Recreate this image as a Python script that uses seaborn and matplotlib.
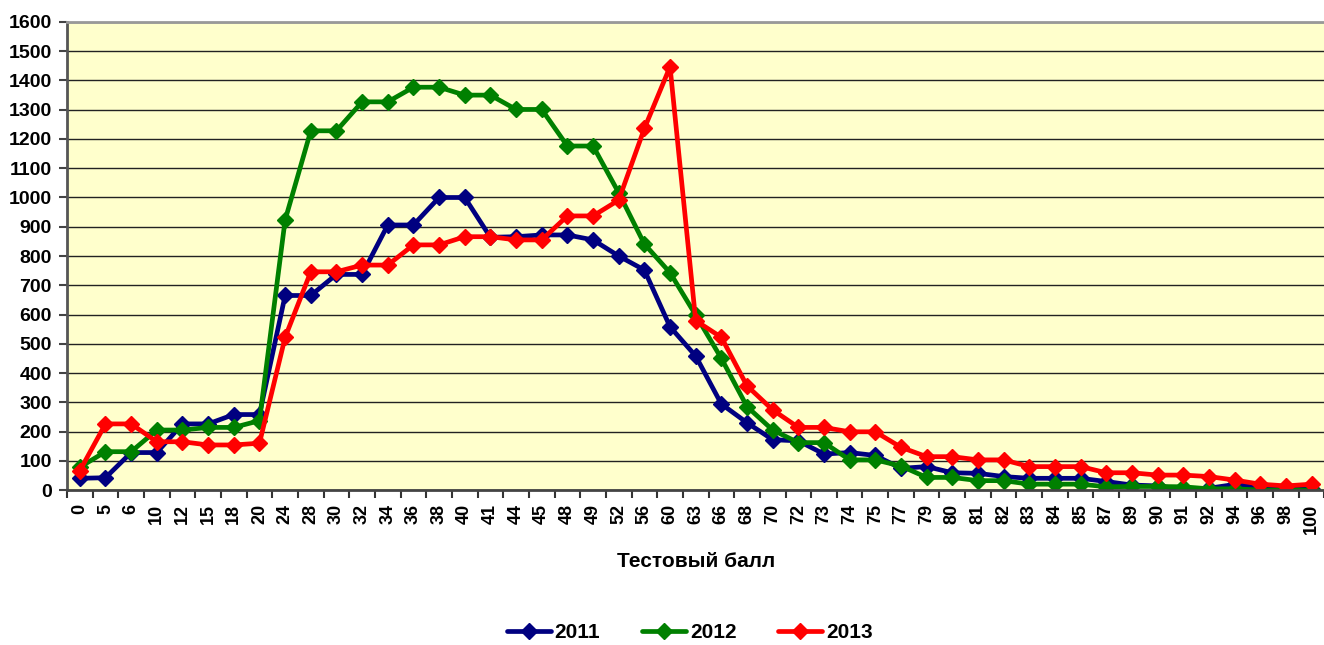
import numpy as np
import pandas as pd
import matplotlib
matplotlib.use('Agg')
import matplotlib.pyplot as plt
import seaborn as sns
from matplotlib.ticker import MultipleLocator

# test scores (x categories) and number of participants per year
scores = [0, 5, 6, 10, 12, 15, 18, 20, 24, 28, 30, 32, 34, 36, 38, 40, 41, 44, 45, 48,
          49, 52, 56, 60, 63, 66, 68, 70, 72, 73, 74, 75, 77, 79, 80, 81, 82, 83, 84, 85,
          87, 89, 90, 91, 92, 94, 96, 98, 100]

y2011 = [40, 42, 128, 128, 226, 226, 258, 258, 665, 665, 737, 737, 906, 906, 1000, 1000,
         864, 866, 872, 872, 855, 800, 752, 558, 458, 294, 230, 172, 168, 123, 128, 118,
         74, 80, 59, 57, 46, 40, 40, 40, 29, 17, 14, 2, 6, 19, 11, 5, 3]
y2012 = [78, 131, 131, 205, 205, 214, 214, 237, 923, 1228, 1228, 1327, 1327, 1377, 1377, 1350,
         1350, 1301, 1301, 1176, 1176, 1016, 841, 743, 598, 450, 285, 205, 162, 162, 103, 103,
         82, 43, 43, 32, 32, 20, 20, 20, 11, 12, 12, 11, 4, 4, 0, 0, 0]
y2013 = [66, 226, 226, 165, 165, 154, 154, 160, 522, 746, 746, 769, 769, 838, 838, 866,
         866, 855, 855, 937, 937, 991, 1236, 1447, 579, 522, 356, 274, 214, 214, 199, 199,
         146, 114, 114, 103, 103, 80, 80, 80, 59, 59, 51, 51, 46, 34, 20, 14, 20]

years = ['2011', '2012', '2013']
colors = ['#000080', '#008000', '#FF0000']
score_labels = [str(s) for s in scores]

df = pd.DataFrame({
    'score': score_labels * 3,
    'count': y2011 + y2012 + y2013,
    'year': [years[0]] * len(scores) + [years[1]] * len(scores) + [years[2]] * len(scores),
})

sns.set_theme(style='white')
plt.rcParams['font.family'] = ['Liberation Sans Narrow', 'Liberation Sans', 'DejaVu Sans']
plt.rcParams['font.weight'] = 'bold'
plt.rcParams['text.color'] = 'black'
plt.rcParams['axes.labelcolor'] = 'black'
plt.rcParams['xtick.color'] = 'black'
plt.rcParams['ytick.color'] = 'black'

fig = plt.figure(figsize=(13.24, 6.45), dpi=100)
ax = fig.add_axes([0.0506, 0.2403, 0.9497, 0.7256])
ax.set_facecolor('#FFFFCC')

sns.pointplot(data=df, x='score', y='count', hue='year', order=score_labels,
              hue_order=years, palette=colors, markers='D', linestyles='-',
              errorbar=None, dodge=False, ax=ax, markersize=8.5, linewidth=3.4,
              markeredgewidth=1)

handles, labels = ax.get_legend_handles_labels()
if ax.get_legend() is not None:
    ax.get_legend().remove()

ax.set_ylim(0, 1600)
ax.set_xlim(-0.5, len(scores) - 0.5)
ax.yaxis.set_major_locator(MultipleLocator(100))
ax.set_xticks(range(len(scores)))
ax.set_xticklabels(score_labels)
ax.set_xticks(np.arange(-0.5, len(scores), 1), minor=True)

ax.tick_params(axis='x', which='major', length=0, pad=10, labelsize=13, labelrotation=90,
               labelcolor='black')
ax.tick_params(axis='x', which='minor', length=6, width=1.5, color='#333333',
               direction='out', bottom=True)
ax.tick_params(axis='y', length=6, width=1.5, color='#444444', direction='out',
               left=True, labelsize=14, pad=5, labelcolor='black')
for lbl in ax.get_xticklabels() + ax.get_yticklabels():
    lbl.set_fontweight('bold')

ax.yaxis.grid(True, color='#222222', linewidth=1)
ax.xaxis.grid(False)
ax.set_axisbelow(True)

ax.spines['left'].set_color('#555555')
ax.spines['left'].set_linewidth(2)
ax.spines['bottom'].set_color('#444444')
ax.spines['bottom'].set_linewidth(2)
ax.spines['top'].set_color('#999999')
ax.spines['top'].set_linewidth(2)
ax.spines['right'].set_visible(False)

ax.set_ylabel('')
ax.set_xlabel('Тестовый балл', fontsize=15, fontweight='bold', color='black')
ax.xaxis.set_label_coords(0.5, -0.152)
ax.xaxis.label.set_va('center')

fig.legend(handles, labels, loc='center', bbox_to_anchor=(0.521, 0.019), ncol=3,
           frameon=False, prop={'weight': 'bold', 'size': 15}, handlelength=2.1,
           handletextpad=0.2, columnspacing=2.0)

fig.savefig('out.png', dpi=100)
